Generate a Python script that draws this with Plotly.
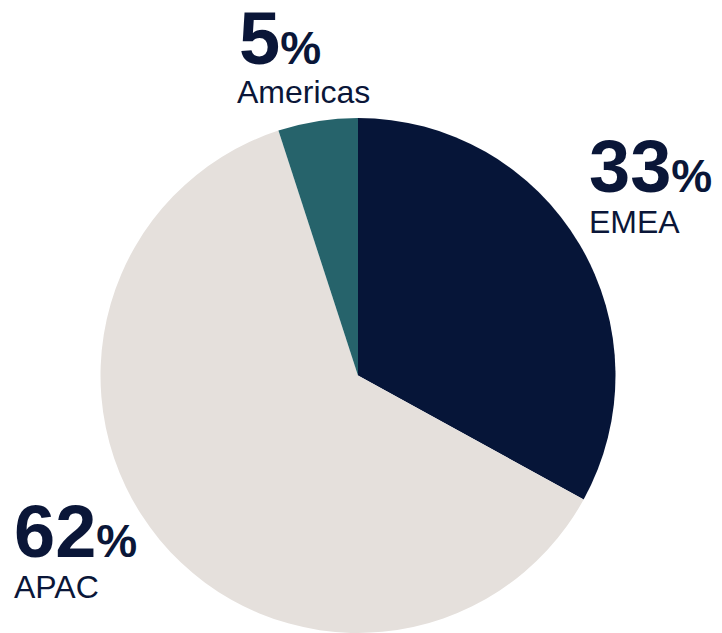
import plotly.graph_objects as go

regions = ["EMEA", "APAC", "Americas"]
shares = [33, 62, 5]
colors = ["#061538", "#E5E0DC", "#26636B"]

W, H = 722, 633
TEXT = "#0A1638"

fig = go.Figure(go.Pie(
    labels=regions, values=shares, sort=False, direction="clockwise", rotation=0,
    marker=dict(colors=colors, line=dict(width=0)),
    textinfo="none", hoverinfo="label+percent", showlegend=False,
    domain=dict(x=[100 / W, 616 / W], y=[0, 515 / H]),
))

# label anchor positions (left x, baseline of number, baseline of name) in pixels
label_pos = {"EMEA": (588, 192, 233), "APAC": (13, 557, 598), "Americas": (238, 64, 103)}
name_x_off = {"EMEA": 0, "APAC": 0, "Americas": -2}

anns = []
for r, v in zip(regions, shares):
    x, b1, b2 = label_pos[r]
    top1 = b1 - 0.905 * 74 - 1
    top2 = b2 - 0.905 * 32 - 1
    anns.append(dict(
        x=x / W, y=1 - top1 / H, xref="paper", yref="paper", xanchor="left", yanchor="top",
        text=f"<b>{v}</b><b><span style='font-size:46px'> </span><span style='font-size:46px'>%</span></b>".replace("<span style='font-size:46px'> </span>", ""),
        showarrow=False,
        font=dict(family="Liberation Sans, Arial", size=74, color=TEXT),
        borderpad=0,
    ))
    anns.append(dict(
        x=(x + name_x_off[r]) / W, y=1 - top2 / H, xref="paper", yref="paper", xanchor="left", yanchor="top",
        text=r, showarrow=False,
        font=dict(family="Liberation Sans, Arial", size=32, color=TEXT),
        borderpad=0,
    ))

fig.update_layout(
    width=W, height=H, margin=dict(l=0, r=0, t=0, b=0),
    paper_bgcolor="white", plot_bgcolor="white", annotations=anns,
)
fig.write_html("out.html")
